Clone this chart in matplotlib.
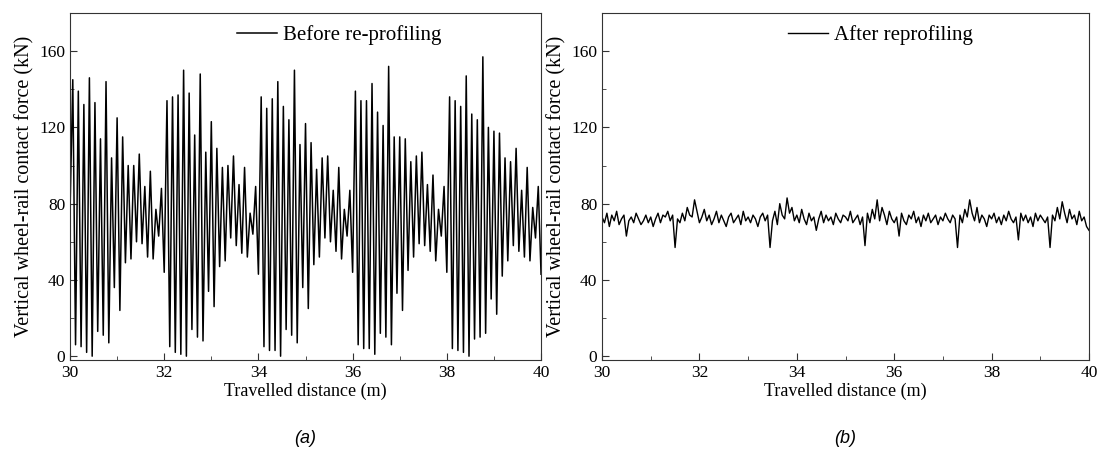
"""
Vertical wheel-rail contact force before / after re-profiling
"""
import numpy as np
import matplotlib.pyplot as plt
from matplotlib.ticker import MultipleLocator

# (a) before re-profiling : peaks and troughs of each 2 m burst (kN)
peaks_1 = [145, 139, 132, 146, 133, 114, 144, 104, 125, 115, 100, 100, 106, 89, 97, 77, 88]
troughs_1 = [6, 5, 2, 0, 13, 11, 7, 36, 24, 49, 51, 60, 59, 52, 51, 63, 44]
peaks_2 = [134, 136, 137, 150, 138, 116, 148, 107, 123, 109, 99, 100, 105, 90, 99, 75, 89]
troughs_2 = [5, 2, 1, 0, 14, 10, 8, 34, 26, 47, 50, 62, 58, 54, 52, 64, 43]
peaks_3 = [136, 130, 135, 144, 131, 124, 150, 111, 122, 112, 98, 104, 105, 87, 99, 77, 87]
troughs_3 = [5, 3, 3, 0, 14, 11, 7, 36, 25, 48, 52, 62, 60, 55, 51, 63, 44]
peaks_4 = [139, 134, 134, 143, 128, 121, 152, 115, 115, 114, 102, 105, 107, 90, 95, 77, 89]
troughs_4 = [6, 4, 4, 1, 12, 10, 6, 33, 24, 45, 52, 59, 58, 55, 50, 63, 44]
peaks_5 = [136, 134, 131, 147, 127, 124, 157, 120, 118, 117, 104, 102, 109, 87, 99, 78, 89]
troughs_5 = [4, 3, 2, 0, 9, 10, 12, 30, 22, 42, 50, 58, 55, 52, 50, 62, 43]
start_before = 75

# (b) after reprofiling, one value every 0.05 m (kN)
after_1 = [73, 70, 75, 68, 74, 71, 76, 69, 72, 74, 63, 71, 73, 70, 75, 72, 69, 71, 74, 70,
           73, 68, 72, 75, 70, 74, 73, 76, 71, 74, 57, 72, 70, 75, 71, 78, 74, 73, 82, 76]
after_2 = [70, 73, 77, 71, 74, 69, 72, 76, 70, 74, 71, 68, 73, 75, 70, 72, 74, 69, 76, 71,
           73, 70, 74, 72, 68, 73, 75, 71, 74, 57, 71, 76, 69, 80, 74, 72, 83, 75, 78, 71]
after_3 = [74, 70, 77, 72, 69, 75, 71, 73, 66, 72, 76, 70, 74, 71, 73, 69, 75, 72, 70, 74,
           73, 71, 76, 70, 72, 74, 69, 73, 58, 75, 70, 77, 72, 82, 71, 78, 74, 69, 76, 72]
after_4 = [70, 73, 63, 75, 71, 69, 74, 72, 76, 70, 73, 68, 74, 71, 75, 70, 72, 74, 69, 73,
           71, 75, 72, 70, 74, 72, 57, 74, 70, 77, 73, 82, 75, 71, 78, 70, 74, 72, 68, 74]
after_5 = [72, 75, 70, 73, 69, 74, 71, 76, 72, 70, 73, 61, 75, 71, 74, 70, 73, 68, 75, 71,
           74, 72, 70, 73, 57, 74, 71, 78, 72, 81, 75, 70, 77, 72, 74, 69, 76, 71, 73, 68, 66]

# assemble series
force_before = [start_before]
for pk, tr in [(peaks_1, troughs_1), (peaks_2, troughs_2), (peaks_3, troughs_3),
               (peaks_4, troughs_4), (peaks_5, troughs_5)]:
    for p, t in zip(pk, tr):
        force_before += [p, t]
dist_before = np.linspace(30, 40, len(force_before))

force_after = after_1 + after_2 + after_3 + after_4 + after_5
dist_after = np.linspace(30, 40, len(force_after))

plt.rcParams['font.family'] = ['Liberation Serif', 'DejaVu Serif']

fig = plt.figure(figsize=(10.99, 4.59), dpi=100)
ax1 = fig.add_axes([0.0637, 0.2157, 0.4286, 0.756])
ax2 = fig.add_axes([0.5478, 0.2157, 0.4431, 0.756])

panels = [(ax1, dist_before, force_before, 'Before re-profiling', '(a)', 1.1),
          (ax2, dist_after, force_after, 'After reprofiling', '(b)', 1.0)]

for ax, x, y, lab, tag, lw in panels:
    ax.plot(x, y, color='black', lw=lw, label=lab)
    ax.set_xlim(30, 40)
    ax.set_ylim(-2, 180)
    ax.xaxis.set_major_locator(MultipleLocator(2))
    ax.xaxis.set_minor_locator(MultipleLocator(1))
    ax.yaxis.set_major_locator(MultipleLocator(40))
    ax.yaxis.set_minor_locator(MultipleLocator(20))
    ax.tick_params(which='both', direction='in', labelsize=12.5, color='#333333')
    ax.tick_params(which='major', length=5)
    ax.tick_params(which='minor', length=3)
    for s in ax.spines.values():
        s.set_color('#333333')
    ax.set_xlabel('Travelled distance (m)', fontsize=13, labelpad=1)
    ax.set_ylabel('Vertical wheel-rail contact force (kN)', fontsize=14.5, labelpad=3)
    ax.legend(loc='upper center', bbox_to_anchor=(0.572, 1.0), frameon=False,
              fontsize=15, handlelength=1.9, handletextpad=0.3, borderaxespad=0.2)
    ax.text(0.5, -0.225, tag, transform=ax.transAxes, ha='center', va='center',
            fontsize=13, style='italic', family=['Liberation Sans', 'DejaVu Sans'])

plt.savefig('out.png', dpi=100)
